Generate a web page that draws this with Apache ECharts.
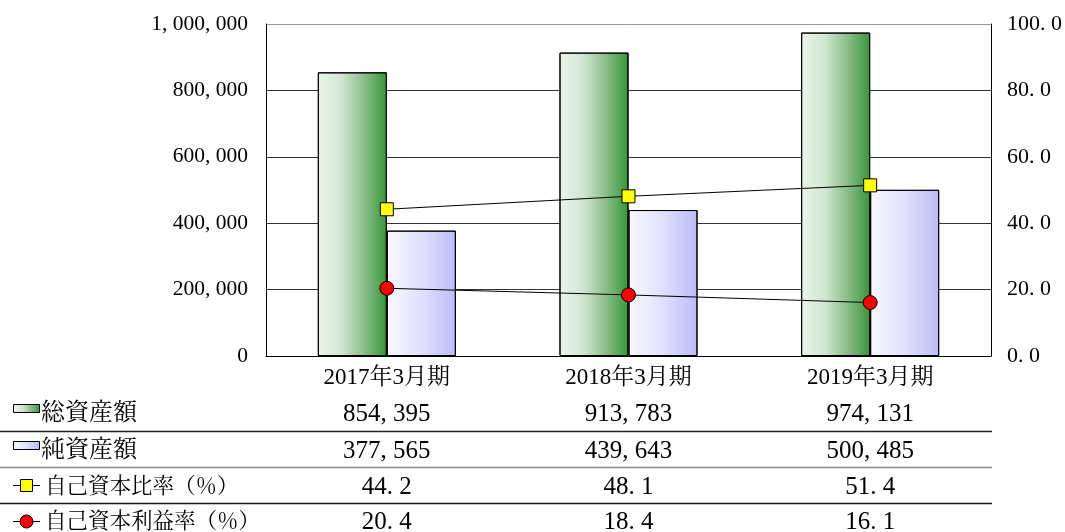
<!DOCTYPE html>
<html>
<head>
<meta charset="utf-8">
<script src="https://cdn.jsdelivr.net/npm/echarts@6/dist/echarts.min.js"></script>
<style>
html,body{margin:0;padding:0;background:#fff;}
#chart{width:1065px;height:532px;}
</style>
</head>
<body>
<div id="chart"></div>
<script>
var categories = ['2017年3月期', '2018年3月期', '2019年3月期'];
var totalAssets = [854395, 913783, 974131];
var netAssets = [377565, 439643, 500485];
var equityRatio = [44.2, 48.1, 51.4];
var roe = [20.4, 18.4, 16.1];
var seriesNames = ['総資産額', '純資産額', '自己資本比率（％）', '自己資本利益率（％）'];

var FONT = "'Liberation Serif', 'Noto Serif CJK JP', 'Noto Sans CJK JP', serif";

function fmtInt(v) {
  return String(v).replace(/\B(?=(\d{3})+(?!\d))/g, ', ');
}
function fmtDec(v) {
  return v.toFixed(1).replace('.', '. ');
}

var greenGrad = {type: 'linear', x: 0, y: 0, x2: 1, y2: 0, colorStops: [
  {offset: 0, color: '#ebf5eb'}, {offset: 0.35, color: '#d0e6d0'},
  {offset: 0.65, color: '#8fc08f'}, {offset: 1, color: '#379637'}]};
var blueGrad = {type: 'linear', x: 0, y: 0, x2: 1, y2: 0, colorStops: [
  {offset: 0, color: '#f9f9ff'}, {offset: 0.5, color: '#e0e0fc'},
  {offset: 1, color: '#bcbcf8'}]};

var chart = echarts.init(document.getElementById('chart'));
var option = {
  animation: false,
  backgroundColor: '#fff',
  grid: {left: 266, right: 73, top: 24, bottom: 176, containLabel: false},
  xAxis: {
    type: 'category', data: categories,
    axisLine: {lineStyle: {color: '#000', width: 1}},
    axisTick: {show: false},
    axisLabel: {fontFamily: FONT, fontSize: 23, color: '#000', margin: 10}
  },
  yAxis: [{
    type: 'value', min: 0, max: 1000000, interval: 200000,
    axisLine: {show: true, lineStyle: {color: '#000'}},
    axisTick: {show: false},
    splitLine: {show: true, lineStyle: {color: ['#333', '#333', '#333', '#333', '#333', '#999'], width: 1}},
    axisLabel: {fontFamily: FONT, fontSize: 21.5, color: '#000', margin: 18, formatter: function (v) { return fmtInt(v); }}
  }, {
    type: 'value', min: 0, max: 100, interval: 20,
    axisLine: {show: true, lineStyle: {color: '#000'}},
    axisTick: {show: false},
    splitLine: {show: false},
    axisLabel: {fontFamily: FONT, fontSize: 22, color: '#000', margin: 16, formatter: function (v) { return fmtDec(v); }}
  }],
  series: [{
    name: seriesNames[0], type: 'bar', data: totalAssets, barWidth: 69, barGap: '0%',
    itemStyle: {color: greenGrad, borderColor: '#000', borderWidth: 1}, z: 2
  }, {
    name: seriesNames[1], type: 'bar', data: netAssets, barWidth: 69, barGap: '0%',
    itemStyle: {color: blueGrad, borderColor: '#000', borderWidth: 1}, z: 2
  }, {
    name: seriesNames[2], type: 'line', yAxisIndex: 1, data: equityRatio,
    symbol: 'rect', symbolSize: 13,
    lineStyle: {color: '#000', width: 1},
    itemStyle: {color: '#ffff00', borderColor: '#000', borderWidth: 1}, z: 5
  }, {
    name: seriesNames[3], type: 'line', yAxisIndex: 1, data: roe,
    symbol: 'circle', symbolSize: 14,
    lineStyle: {color: '#000', width: 1},
    itemStyle: {color: '#ff0000', borderColor: '#000', borderWidth: 1}, z: 5
  }]
};
chart.setOption(option);

// Data table below the chart
var rowY = [414, 451, 487, 522];
var lineY = [431, 467, 503];
var lineColors = ['#222', '#888', '#111'];
var rows = [
  totalAssets.map(fmtInt),
  netAssets.map(fmtInt),
  equityRatio.map(fmtDec),
  roe.map(fmtDec)
];
var plotRight = 992;
var g = [];
lineY.forEach(function (y, i) {
  g.push({type: 'line', shape: {x1: 0, y1: y + 0.5, x2: plotRight, y2: y + 0.5},
    style: {stroke: lineColors[i], lineWidth: 1.5}});
});
rows.forEach(function (vals, r) {
  vals.forEach(function (txt, c) {
    var x = chart.convertToPixel({xAxisIndex: 0}, categories[c]);
    g.push({type: 'text', x: x, y: rowY[r], style: {
      text: txt, fontFamily: FONT, fontSize: 25, fill: '#000', align: 'center', verticalAlign: 'middle'}});
  });
});
// legend icons
g.push({type: 'rect', shape: {x: 13.5, y: 404.5, width: 26, height: 8},
  style: {fill: greenGrad, stroke: '#000', lineWidth: 1}});
g.push({type: 'rect', shape: {x: 13.5, y: 441.5, width: 26, height: 8},
  style: {fill: blueGrad, stroke: '#000', lineWidth: 1}});
g.push({type: 'line', shape: {x1: 13, y1: 485.5, x2: 40, y2: 485.5}, style: {stroke: '#000', lineWidth: 1}});
g.push({type: 'rect', shape: {x: 20.5, y: 479.5, width: 12, height: 12},
  style: {fill: '#ffff00', stroke: '#000', lineWidth: 1}});
g.push({type: 'line', shape: {x1: 13, y1: 521.5, x2: 40, y2: 521.5}, style: {stroke: '#000', lineWidth: 1}});
g.push({type: 'circle', shape: {cx: 26.5, cy: 521.5, r: 6.5},
  style: {fill: '#ff0000', stroke: '#000', lineWidth: 1}});
// legend labels
var labelSizes = [24, 24, 21.5, 21.5];
var labelX = [41, 41, 45, 45];
seriesNames.forEach(function (n, i) {
  g.push({type: 'text', x: labelX[i], y: rowY[i], style: {
    text: n, fontFamily: FONT, fontSize: labelSizes[i], fill: '#000', align: 'left', verticalAlign: 'middle'}});
});
chart.setOption({graphic: {elements: g}});
</script>
</body>
</html>
